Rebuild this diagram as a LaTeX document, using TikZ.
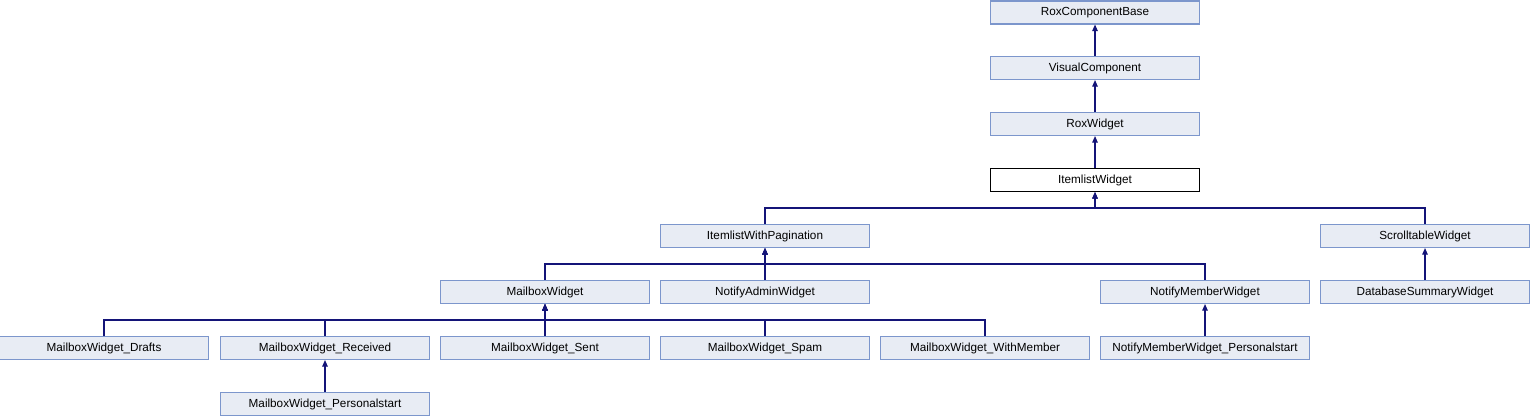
\documentclass[tikz,border=0pt]{standalone}
\usepackage{fontspec}
\setmainfont{Liberation Sans}
\usetikzlibrary{arrows.meta}

\definecolor{clsfill}{RGB}{232,236,244}
\definecolor{clsline}{RGB}{124,150,204}
\definecolor{inhline}{RGB}{20,20,120}

\tikzset{
  cls/.style={draw=clsline,fill=clsfill,line width=0.8pt,minimum width=156.75pt,
    minimum height=17.25pt,inner sep=0pt,font=\fontsize{8.8pt}{10pt}\selectfont},
  clscur/.style={cls,draw=black,fill=white},
  inh/.style={draw=inhline,line width=0.85pt,-{Triangle[length=5pt,width=4.2pt]}}
}

\begin{document}
\begin{tikzpicture}[x=0.75pt,y=-0.75pt]
       \useasboundingbox (0,0) rectangle (1530,416);
       % chain above the current class
       \node[cls] (base) at (1095,12.5) {RoxComponentBase};
       \node[cls] (visual) at (1095,68) {VisualComponent};
       \node[cls] (roxw) at (1095,124) {RoxWidget};
       \node[clscur] (itemlist) at (1095,180) {ItemlistWidget};
       \draw[inh] (visual.north) -- (base.south);
       \draw[inh] (roxw.north) -- (visual.south);
       \draw[inh] (itemlist.north) -- (roxw.south);
       % second level
       \node[cls] (pagin) at (765,236) {ItemlistWithPagination};
       \node[cls] (scroll) at (1425,236) {ScrolltableWidget};
       \foreach \c in {pagin,scroll}
       {
         \draw[inh] (\c.north) -- ++(0,-16) -| (itemlist.south);
       }
       % third level
       \node[cls] (mailbox) at (545,292) {MailboxWidget};
       \node[cls] (nadmin) at (765,292) {NotifyAdminWidget};
       \node[cls] (nmember) at (1205,292) {NotifyMemberWidget};
       \node[cls] (dbsum) at (1425,292) {DatabaseSummaryWidget};
       \foreach \c in {mailbox,nadmin,nmember}
       {
         \draw[inh] (\c.north) -- ++(0,-16) -| (pagin.south);
       }
       \draw[inh] (dbsum.north) -- (scroll.south);
       % fourth level
       \node[cls] (drafts) at (104,348) {MailboxWidget\_Drafts};
       \node[cls] (received) at (325,348) {MailboxWidget\_Received};
       \node[cls] (sent) at (545,348) {MailboxWidget\_Sent};
       \node[cls] (spam) at (765,348) {MailboxWidget\_Spam};
       \node[cls] (withmem) at (985,348) {MailboxWidget\_WithMember};
       \node[cls] (nmpers) at (1205,348) {NotifyMemberWidget\_Personalstart};
       \foreach \c in {drafts,received,sent,spam,withmem}
       {
         \draw[inh] (\c.north) -- ++(0,-16) -| (mailbox.south);
       }
       \draw[inh] (nmpers.north) -- (nmember.south);
       % last level
       \node[cls] (mbpers) at (325,404) {MailboxWidget\_Personalstart};
       \draw[inh] (mbpers.north) -- (received.south);
     \end{tikzpicture}
\end{document}
